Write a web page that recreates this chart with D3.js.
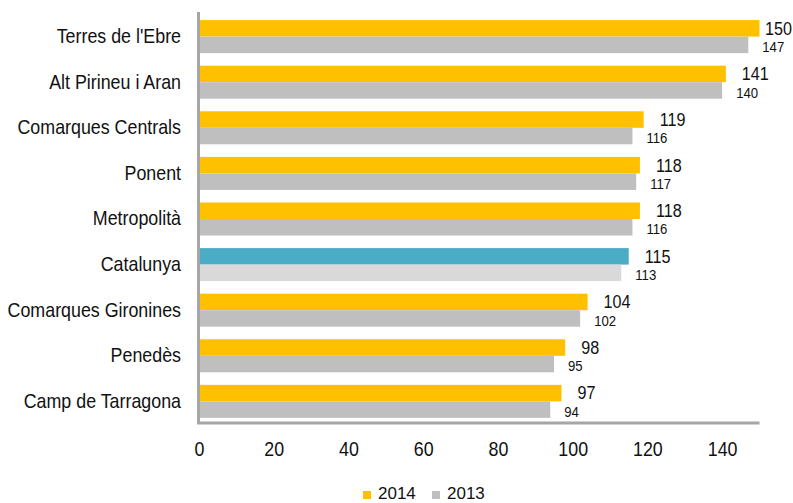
<!DOCTYPE html>
<html>
<head>
<meta charset="utf-8">
<script src="https://cdn.jsdelivr.net/npm/d3@7"></script>
<style>
  body { margin: 0; background: #fff; }
  svg text { font-family: "Liberation Sans", Arial, sans-serif; fill: #111; }
</style>
</head>
<body>
<svg id="chart" width="793" height="503"></svg>
<script>
const categories = ["Terres de l'Ebre", "Alt Pirineu i Aran", "Comarques Centrals", "Ponent",
  "Metropolità", "Catalunya", "Comarques Gironines", "Penedès", "Camp de Tarragona"];
const values2014 = [150, 141, 119, 118, 118, 115, 104, 98, 97];
const values2013 = [147, 140, 116, 117, 116, 113, 102, 95, 94];
const xTicks = [0, 20, 40, 60, 80, 100, 120, 140];
const seriesNames = ["2014", "2013"];
const highlight = "Catalunya";

let svg = d3.select("svg#chart");
const squeeze = 0.85; // the original font is narrow

const xScale = d3.scaleLinear().domain([0, 150]).range([199, 759.5]);
const yScale = d3.scaleBand().domain(categories).range([13.5, 424.5])
    .paddingInner(0.276).paddingOuter(0.145);
const half = yScale.bandwidth() / 2;

// bars
let bars = svg.append("g");
categories.forEach((c, i) => {
    let hi = c == highlight;
    bars.append("rect")
        .attr("x", xScale(0))
        .attr("y", yScale(c))
        .attr("width", xScale(values2014[i]) - xScale(0))
        .attr("height", half)
        .style("fill", hi ? "#4BACC6" : "#FFC000");
    bars.append("rect")
        .attr("x", xScale(0))
        .attr("y", yScale(c) + half)
        .attr("width", xScale(values2013[i]) - xScale(0))
        .attr("height", half)
        .style("fill", hi ? "#D9D9D9" : "#BFBFBF");
});

// value labels
let labels = svg.append("g");
categories.forEach((c, i) => {
    let t1 = labels.append("text")
        .attr("font-size", 19)
        .attr("dy", "0.36em")
        .text(values2014[i]);
    let w1 = t1.node().getComputedTextLength() * squeeze;
    let x1 = Math.min(xScale(values2014[i]) + 16, 792 - w1);
    t1.attr("transform", "translate(" + x1 + "," + (yScale(c) + half / 2 - 0.5) + ") scale(" + squeeze + ",1)");

    let t2 = labels.append("text")
        .attr("font-size", 15.5)
        .attr("dy", "0.36em")
        .text(values2013[i]);
    let x2 = xScale(values2013[i]) + 14;
    t2.attr("transform", "translate(" + x2 + "," + (yScale(c) + half * 1.5 + 1.5) + ") scale(" + squeeze + ",1)");
});

// category axis
let leftAxis = d3.axisLeft(yScale).tickSize(0).tickPadding(0);
let gLeft = svg.append("g")
    .attr("transform", "translate(199,0)")
    .call(leftAxis);
gLeft.select(".domain").remove();
gLeft.selectAll("text")
    .attr("x", -18 / squeeze)
    .attr("dy", "0.3em")
    .attr("font-size", 21)
    .attr("transform", "scale(" + squeeze + ",1)");

// value axis
let bottomAxis = d3.axisBottom(xScale).tickValues(xTicks).tickSize(0).tickPadding(0);
let gBottom = svg.append("g")
    .attr("transform", "translate(0,441)")
    .call(bottomAxis);
gBottom.select(".domain").remove();
gBottom.selectAll("text")
    .attr("y", 0)
    .attr("dy", "0.72em")
    .attr("font-size", 21)
    .attr("transform", "scale(" + squeeze + ",1)");

// axis lines
svg.append("line")
    .attr("x1", 198.5).attr("x2", 198.5)
    .attr("y1", 12).attr("y2", 424)
    .attr("stroke", "#A6A6A6").attr("stroke-width", 3);
svg.append("line")
    .attr("x1", 197).attr("x2", xScale(150))
    .attr("y1", 423).attr("y2", 423)
    .attr("stroke", "#A6A6A6").attr("stroke-width", 3);

// legend
let legend = svg.append("g");
const legendX = [363, 432];
const legendColors = ["#FFC000", "#BFBFBF"];
seriesNames.forEach((s, i) => {
    legend.append("rect")
        .attr("x", legendX[i]).attr("y", 491)
        .attr("width", 8).attr("height", 8)
        .style("fill", legendColors[i]);
    legend.append("text")
        .attr("x", legendX[i] + 15).attr("y", 499)
        .attr("font-size", 17)
        .text(s);
});
</script>
</body>
</html>
